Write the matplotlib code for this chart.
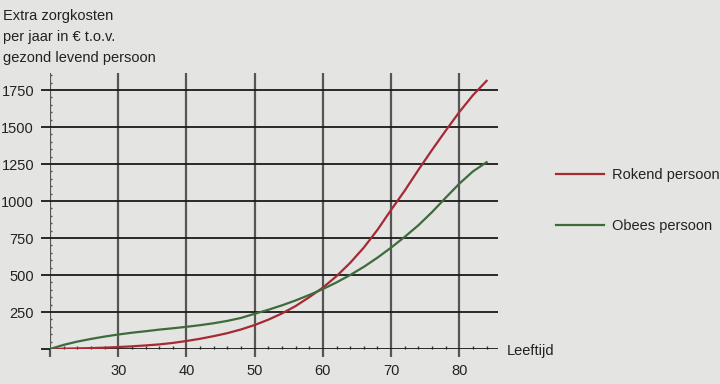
import matplotlib
matplotlib.use("Agg")
import matplotlib.pyplot as plt
from matplotlib.ticker import MultipleLocator, FixedLocator

plt.rcParams['font.family'] = ['Liberation Sans', 'DejaVu Sans']

ages = [20, 22, 24, 26, 28, 30, 32, 34, 36, 38, 40, 42, 44, 46, 48, 50, 52, 54,
        56, 58, 60, 62, 64, 66, 68, 70, 72, 74, 76, 78, 80, 82, 84]
rokend = [0, 2, 4, 6, 9, 13, 18, 24, 31, 41, 54, 69, 87, 107, 132, 162, 198, 240,
          290, 350, 415, 492, 582, 685, 805, 940, 1070, 1210, 1345, 1475, 1601, 1715, 1812]
obees = [0, 28, 50, 68, 84, 98, 110, 120, 131, 140, 150, 161, 174, 190, 210, 238, 265, 295,
         328, 365, 405, 450, 500, 555, 617, 685, 758, 836, 925, 1022, 1117, 1200, 1262]

x_ticks = [20, 30, 40, 50, 60, 70, 80]
x_labels = ['', '30', '40', '50', '60', '70', '80']
y_ticks = [0, 250, 500, 750, 1000, 1250, 1500, 1750]
y_labels = ['', '250', '500', '750', '1000', '1250', '1500', '1750']

bg = '#e4e4e2'
txt = '#222222'
red = '#a52a33'
green = '#3e6b3c'
vgrid = '#555555'

fig = plt.figure(figsize=(7.2, 3.84), dpi=100, facecolor=bg)
ax = fig.add_axes([50 / 720, 35 / 384, 447.5 / 720, 276 / 384])
ax.set_facecolor(bg)
for s in ax.spines.values():
    s.set_visible(False)

ax.set_xlim(20, 85.6)
ax.set_ylim(0, 1865)

ax.set_axisbelow(True)
ax.xaxis.set_major_locator(FixedLocator(x_ticks))
ax.set_xticklabels(x_labels)
ax.yaxis.set_major_locator(FixedLocator(y_ticks))
ax.set_yticklabels(y_labels)
ax.xaxis.set_minor_locator(MultipleLocator(2))
ax.yaxis.set_minor_locator(MultipleLocator(50))

ax.grid(axis='x', which='major', color=vgrid, lw=1.6)
ax.grid(axis='y', which='major', color='#1a1a1a', lw=1.3)

ax.tick_params(axis='x', which='major', direction='out', length=6, width=1.6,
               color=vgrid, labelsize=10.5, labelcolor=txt, pad=5)
ax.tick_params(axis='y', which='major', direction='out', length=6.5, width=1.3,
               color='#1a1a1a', labelsize=10.5, labelcolor=txt, pad=5)
ax.tick_params(axis='x', which='minor', direction='in', length=2.2, width=1,
               color='#333333')
ax.tick_params(axis='y', which='minor', direction='in', length=1.5, width=1,
               color='#555555')

ax.plot(ages, rokend, color=red, lw=1.6, label='Rokend persoon', zorder=3)
ax.plot(ages, obees, color=green, lw=1.6, label='Obees persoon', zorder=3)

for i, line in enumerate(['Extra zorgkosten', 'per jaar in \u20ac t.o.v.', 'gezond levend persoon']):
    fig.text(3 / 720, 1 - (20 + 21 * i) / 384, line, fontsize=10.5, color=txt,
             va='baseline', ha='left')

fig.text(507 / 720, 1 - 355 / 384, 'Leeftijd', fontsize=10.5, color=txt,
         va='baseline', ha='left')

leg = ax.legend(loc='center left', bbox_to_anchor=(556 / 720, 1 - 200.5 / 384),
                bbox_transform=fig.transFigure, frameon=False, fontsize=10.5,
                handlelength=3.3, handletextpad=0.55, labelspacing=2.5,
                borderpad=0, borderaxespad=0)
for t in leg.get_texts():
    t.set_color(txt)

fig.savefig('out.png', dpi=100, facecolor=bg)
